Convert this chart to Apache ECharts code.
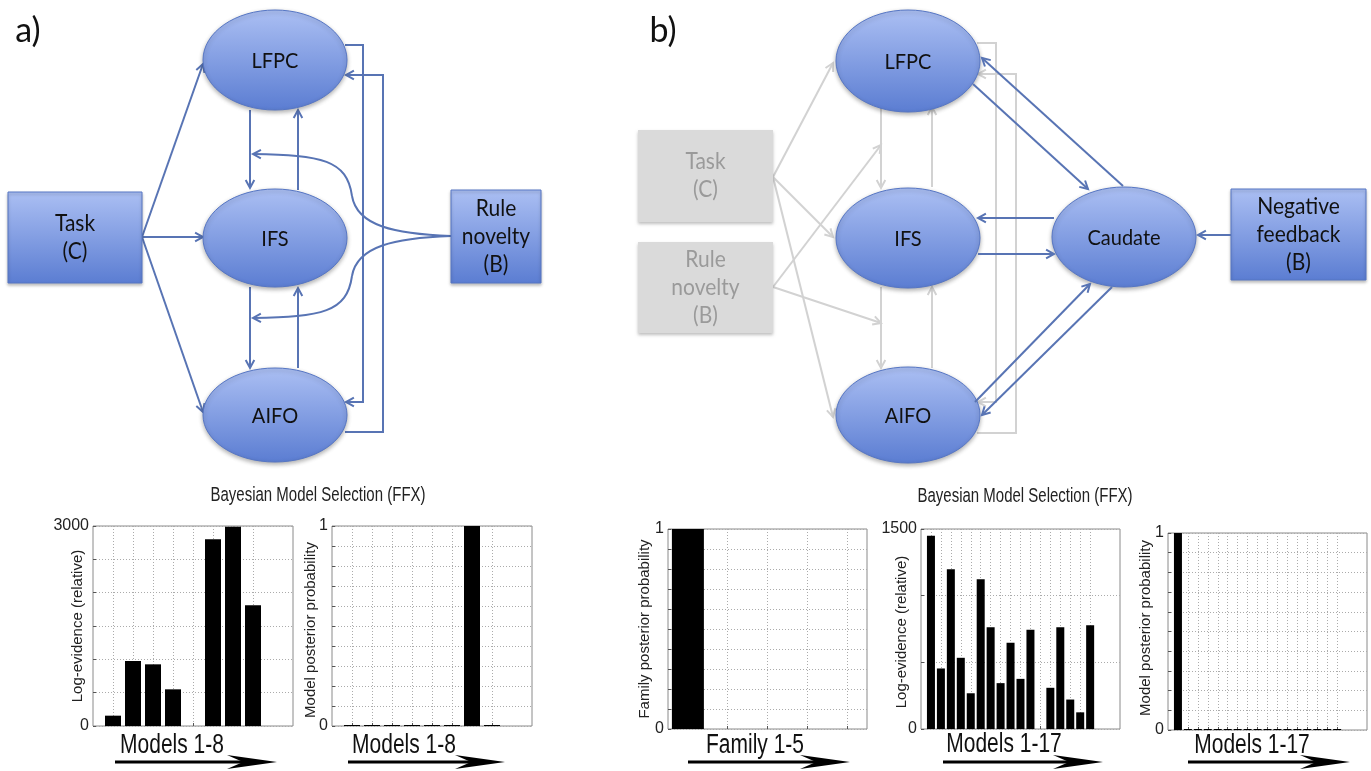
<!DOCTYPE html>
<html><head><meta charset="utf-8">
<script src="https://cdn.jsdelivr.net/npm/echarts@6/dist/echarts.min.js"></script>
<style>html,body{margin:0;padding:0;background:#fff}#c{width:1371px;height:771px}</style>
</head><body><div id="c"></div>
<script>
// ================= DATA =================
const logEvidenceA = [155, 975, 925, 550, 0, 2800, 2990, 1810];   // Models 1-8
const posteriorA   = [0, 0, 0, 0, 0, 0, 1, 0];                     // Models 1-8
const familyPosteriorB = [1, 0, 0, 0, 0];                          // Family 1-5
const logEvidenceB = [1450, 454, 1199, 534, 268, 1124, 763, 344, 647, 376, 745, 0, 309, 763, 221, 125, 778]; // Models 1-17
const posteriorB   = [1, 0, 0, 0, 0, 0, 0, 0, 0, 0, 0, 0, 0, 0, 0, 0, 0];  // Models 1-17
const logEvTicksA = [0, 3000];
const logEvTicksB = [0, 1500];
const probTicks   = [0, 1];

// ================= HELPERS =================
const FONT_AX = 'Liberation Sans, Arial, sans-serif';
const FONT_DG = 'Lato, "Open Sans", sans-serif';
const BLUE = '#5874b4';
const GRAY = '#d2d2d2';

function positions(from, to, step) { const r = []; for (let p = from; p <= to + 1e-9; p += step) r.push(Math.round(p * 10) / 10); return r; }
function padded(vals, pos) { return pos.map(p => (Number.isInteger(p) && p >= 1 && p <= vals.length) ? vals[p - 1] : '-'); }

const panels = [
  { grid: {left: 93, top: 526, width: 200, height: 200}, pos: positions(0, 10, 1), vals: logEvidenceA, max: 3000, interval: 500, ticks: logEvTicksA, bw: 16, minH: 0 },
  { grid: {left: 332, top: 526, width: 200, height: 200}, pos: positions(0, 10, 1), vals: posteriorA, max: 1, interval: 0.1, ticks: probTicks, bw: 16, minH: 1 },
  { grid: {left: 668, top: 529, width: 199, height: 200}, pos: positions(0.5, 5.5, 0.5), vals: familyPosteriorB, max: 1, interval: 0.1, ticks: probTicks, bw: 32, minH: 0 },
  { grid: {left: 921, top: 529, width: 199, height: 200}, pos: positions(0, 20, 1), vals: logEvidenceB, max: 1500, interval: 500, ticks: logEvTicksB, bw: 8, minH: 0 },
  { grid: {left: 1168, top: 533, width: 199, height: 197}, pos: positions(0, 20, 1), vals: posteriorB, max: 1, interval: 0.1, ticks: probTicks, bw: 8, minH: 1 }
];

const grids = [], xAxes = [], yAxes = [], series = [];
panels.forEach((pn, i) => {
  grids.push(Object.assign({ show: true, borderColor: '#8a8a8a', borderWidth: 1, backgroundColor: '#fff' }, pn.grid));
  const N = pn.vals.length;
  const onTick = (idx) => { const p = pn.pos[idx]; return Number.isInteger(p) && p >= 1 && p <= N; };
  xAxes.push({
    type: 'category', gridIndex: i, boundaryGap: false, data: pn.pos.map(String),
    axisLine: { show: false }, axisLabel: { show: false },
    axisTick: { show: true, inside: true, length: 3, interval: onTick, lineStyle: { color: '#555' } },
    splitLine: { show: true, interval: onTick, lineStyle: { color: '#ababab', type: [1, 2], width: 1 } }
  });
  yAxes.push({
    type: 'value', gridIndex: i, min: 0, max: pn.max, interval: pn.interval,
    axisLine: { show: false },
    axisTick: { show: true, inside: true, length: 3, lineStyle: { color: '#555' } },
    axisLabel: { color: '#222', fontSize: 16, fontFamily: FONT_AX, margin: 4,
      formatter: v => pn.ticks.some(t => Math.abs(t - v) < 1e-9) ? String(Math.round(v)) : '' },
    splitLine: { show: true, lineStyle: { color: '#ababab', type: [1, 2], width: 1 } }
  });
  series.push({
    type: 'bar', xAxisIndex: i, yAxisIndex: i, data: padded(pn.vals, pn.pos),
    barWidth: pn.bw, barMinHeight: pn.minH, itemStyle: { color: '#000' }, silent: true, animation: false
  });
});

// ================= GRAPHIC (diagram + labels) =================
const g = [];
function T(x, y, s, o = {}) {
  g.push({ type: 'text', x, y, rotation: o.rot || 0, scaleX: o.sx || 1, scaleY: o.sy || 1, z: 20,
    style: { text: s, font: o.font, fill: o.fill || '#111', align: 'center', verticalAlign: 'middle' } });
}
function head(x1, y1, x2, y2, color, z) {
  const a = Math.atan2(y2 - y1, x2 - x1), L = 9, s = 0.5;
  g.push({ type: 'polyline', z: z || 5, shape: { points: [[x2 - L * Math.cos(a - s), y2 - L * Math.sin(a - s)], [x2, y2], [x2 - L * Math.cos(a + s), y2 - L * Math.sin(a + s)]] },
    style: { stroke: color, lineWidth: 2, fill: null } });
}
function arrow(pts, color, z) {
  g.push({ type: 'polyline', z: z || 5, shape: { points: pts }, style: { stroke: color, lineWidth: 2, fill: null } });
  const n = pts.length; head(pts[n - 2][0], pts[n - 2][1], pts[n - 1][0], pts[n - 1][1], color, z);
}
function curve(segs, color) {
  segs.forEach(s => g.push({ type: 'bezierCurve', z: 5, shape: { x1: s[0], y1: s[1], cpx1: s[2], cpy1: s[3], cpx2: s[4], cpy2: s[5], x2: s[6], y2: s[7] },
    style: { stroke: color, lineWidth: 2, fill: null } }));
  const l = segs[segs.length - 1]; head(l[4], l[5], l[6], l[7], color);
}
const grad = { type: 'linear', x: 0, y: 0, x2: 0, y2: 1, colorStops: [{ offset: 0, color: '#abbff3' }, { offset: 1, color: '#5b7dd2' }] };
function ell(cx, cy, rx, ry, label) {
  g.push({ type: 'ellipse', z: 8, shape: { cx, cy, rx, ry },
    style: { fill: grad, stroke: '#5676c4', lineWidth: 1, shadowBlur: 4, shadowOffsetY: 2, shadowColor: 'rgba(0,0,0,0.3)' } });
  T(cx, cy + 1, label, { font: '20px ' + FONT_DG, sy: 1.1 });
}
function box(x, y, w, h, lines, gray) {
  g.push({ type: 'rect', z: 8, shape: { x, y, width: w, height: h },
    style: { fill: gray ? '#dadada' : grad, stroke: gray ? null : '#5676c4', lineWidth: 1, shadowBlur: 3, shadowOffsetY: 2, shadowColor: 'rgba(0,0,0,0.25)' } });
  const cy = y + h / 2, lh = 28;
  lines.forEach((t, k) => T(x + w / 2, cy + (k - (lines.length - 1) / 2) * lh, t, { font: '21px ' + FONT_DG, sy: 1.1, fill: gray ? '#9a9a9a' : '#111' }));
}

// ---- panel a diagram ----
T(28, 31, 'a)', { font: '34px ' + FONT_DG });
arrow([[142, 237], [203, 64]], BLUE);
arrow([[142, 237], [203, 237]], BLUE);
arrow([[142, 237], [203, 412]], BLUE);
arrow([[250, 110], [250, 188]], BLUE);
arrow([[298, 190], [298, 110]], BLUE);
arrow([[250, 287], [250, 368]], BLUE);
arrow([[298, 368], [298, 288]], BLUE);
arrow([[345, 45], [363, 45], [363, 402], [346, 402]], BLUE);
arrow([[345, 432], [383, 432], [383, 75], [346, 75]], BLUE);
curve([[451, 236, 395, 234, 357, 226, 352, 196], [352, 196, 347, 160, 322, 155, 253, 154]], BLUE);
curve([[451, 236, 395, 238, 357, 246, 352, 276], [352, 276, 347, 312, 322, 317, 253, 318]], BLUE);
ell(275, 60, 72, 50, 'LFPC');
ell(275, 238, 72, 49, 'IFS');
ell(275, 415, 72, 47, 'AIFO');
box(8, 192, 134, 91, ['Task', '(C)']);
box(451, 190, 90, 93, ['Rule', 'novelty', '(B)']);

// ---- panel b diagram ----
T(663, 31, 'b)', { font: '34px ' + FONT_DG });
arrow([[773, 177], [833, 63]], GRAY, 4);
arrow([[773, 177], [833, 237]], GRAY, 4);
arrow([[773, 177], [833, 417]], GRAY, 4);
arrow([[773, 287], [881, 145]], GRAY, 4);
arrow([[773, 287], [881, 323]], GRAY, 4);
arrow([[881, 107], [881, 188]], GRAY, 4);
arrow([[932, 187], [932, 107]], GRAY, 4);
arrow([[881, 287], [881, 368]], GRAY, 4);
arrow([[932, 368], [932, 287]], GRAY, 4);
arrow([[977, 43], [996, 43], [996, 402], [978, 402]], GRAY, 4);
arrow([[977, 433], [1016, 433], [1016, 74], [978, 74]], GRAY, 4);
arrow([[1123, 186], [982, 58]], BLUE, 9);
arrow([[973, 84], [1088, 189]], BLUE, 9);
arrow([[1054, 218], [978, 218]], BLUE, 9);
arrow([[978, 254], [1054, 254]], BLUE, 9);
arrow([[975, 402], [1090, 284]], BLUE, 9);
arrow([[1112, 287], [982, 415]], BLUE, 9);
arrow([[1231, 235], [1198, 235]], BLUE, 9);
ell(908, 61, 72, 51, 'LFPC');
ell(908, 238, 72, 50, 'IFS');
ell(908, 415, 72, 48, 'AIFO');
ell(1124, 237, 72, 50, 'Caudate');
box(638, 130, 135, 92, ['Task', '(C)'], true);
box(638, 242, 135, 91, ['Rule', 'novelty', '(B)'], true);
box(1231, 189, 135, 91, ['Negative', 'feedback', '(B)']);

// ---- chart labels ----
const AX = FONT_AX;
T(318, 496, 'Bayesian Model Selection (FFX)', { font: '15px ' + AX, sy: 1.3, fill: '#222' });
T(1025, 497, 'Bayesian Model Selection (FFX)', { font: '15px ' + AX, sy: 1.3, fill: '#222' });
const yNames = [[78, 626, 'Log-evidence (relative)'], [311, 630, 'Model posterior probability'], [645, 629, 'Family posterior probability'], [902, 632, 'Log-evidence (relative)'], [1146, 628, 'Model posterior probability']];
yNames.forEach(n => T(n[0], n[1], n[2], { font: '15px ' + AX, rot: Math.PI / 2, fill: '#222' }));
const xNames = [[172, 745, 'Models 1-8'], [404, 745, 'Models 1-8'], [755, 745, 'Family 1-5'], [1004, 744, 'Models 1-17'], [1252, 745, 'Models 1-17']];
xNames.forEach(n => T(n[0], n[1], n[2], { font: '21px ' + AX, sy: 1.3, fill: '#111' }));
const xArrows = [[115, 277], [348, 505], [688, 850], [943, 1103], [1188, 1350]];
xArrows.forEach(a => {
  const y = 762, x1 = a[0], x2 = a[1];
  g.push({ type: 'line', z: 5, shape: { x1, y1: y, x2: x2 - 30, y2: y }, style: { stroke: '#000', lineWidth: 3 } });
  g.push({ type: 'polygon', z: 5, shape: { points: [[x2, y], [x2 - 50, y - 7], [x2 - 34, y], [x2 - 50, y + 7]] }, style: { fill: '#000' } });
});

const chart = echarts.init(document.getElementById('c'), null, { renderer: 'canvas' });
chart.setOption({
  animation: false, backgroundColor: '#fff',
  grid: grids, xAxis: xAxes, yAxis: yAxes, series,
  graphic: { elements: g }
});
</script></body></html>
